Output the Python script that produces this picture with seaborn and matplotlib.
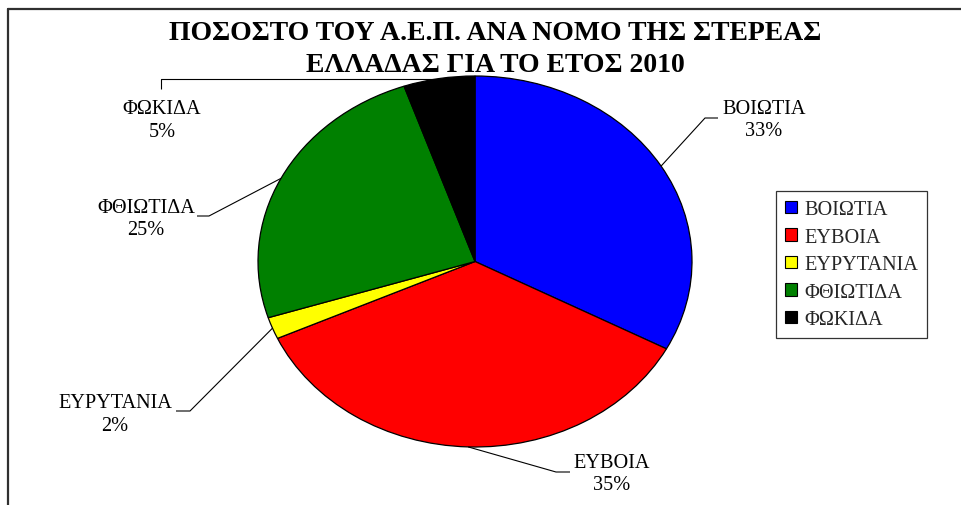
import numpy as np
import matplotlib
matplotlib.use("Agg")
import matplotlib.pyplot as plt
from matplotlib.patches import Patch
from matplotlib.lines import Line2D
import seaborn as sns

# ---- data ----
categories = ["ΒΟΙΩΤΙΑ", "ΕΥΒΟΙΑ", "ΕΥΡΥΤΑΝΙΑ", "ΦΘΙΩΤΙΔΑ", "ΦΩΚΙΔΑ"]
shares = [32.8, 35.4, 1.9, 24.6, 5.3]
colors = ["#0000FF", "#FF0000", "#FFFF00", "#008000", "#000000"]
title = "ΠΟΣΟΣΤΟ ΤΟΥ Α.Ε.Π. ΑΝΑ ΝΟΜΟ ΤΗΣ ΣΤΕΡΕΑΣ\nΕΛΛΑΔΑΣ ΓΙΑ ΤΟ ΕΤΟΣ 2010"

sns.set_theme(style="white")
plt.rcParams["font.family"] = ["Liberation Serif", "DejaVu Serif"]

W, H = 962, 506
fig = plt.figure(figsize=(W / 100, H / 100), dpi=100)
ax = fig.add_axes([0, 0, 1, 1])

# pixel layout of the (elliptic) pie
CX, CY, RX, RY = 475, 262.5, 217, 185.5
def px(x):
    return (x - CX) / RX
def py(y):
    return (CY - y) / RY

wedges, _ = ax.pie(shares, colors=colors, startangle=90, counterclock=False,
                   wedgeprops=dict(edgecolor="black", linewidth=0.9))
ax.set_aspect("auto")
ax.set_xlim(px(0), px(W))
ax.set_ylim(py(H), py(0))
ax.axis("off")

# label layout (pixel positions): text centre, leader end, leader elbow
label_layout = [
    ((764, 120.5), (718, 119), (705, 119)),
    ((612, 474.5), (570, 473), (556, 473)),
    ((115, 415), (176, 412), (190, 412)),
    ((146, 219.5), (197, 217), (209, 217)),
    ((162, 121), (161, 90), None),
]

fs = 14.6
for w, cat, v, (tc, le, el) in zip(wedges, categories, shares, label_layout):
    ang = np.deg2rad((w.theta1 + w.theta2) / 2)
    sx, sy = np.cos(ang), np.sin(ang)
    ax.text(px(tc[0]), py(tc[1]), f"{cat}\n{round(v)}%", ha="center", va="center",
            multialignment="center", fontsize=fs, color="black", linespacing=1.22)
    if el is None:
        xs = [px(le[0]), px(le[0]), sx]
        ys = [py(le[1]), sy, sy]
    else:
        xs = [px(le[0]), px(el[0]), sx]
        ys = [py(le[1]), py(el[1]), sy]
    ax.plot(xs, ys, color="black", lw=0.8, solid_capstyle="butt")

# title
fig.text(495 / W, 1 - 49.5 / H, title, ha="center", va="center", fontsize=20,
         fontweight="bold", linespacing=1.39, color="black")

# legend
handles = [Patch(facecolor=c, edgecolor="black", linewidth=0.8) for c in colors]
leg = fig.legend(handles, categories, loc="upper left",
                 bbox_to_anchor=(776 / W, 1 - 192 / H), bbox_transform=fig.transFigure,
                 borderaxespad=0, fontsize=fs, frameon=True, fancybox=False,
                 handlelength=0.6, handleheight=0.6, handletextpad=0.35,
                 labelspacing=0.42, borderpad=0.45)
leg.get_frame().set_edgecolor("black")
leg.get_frame().set_linewidth(0.9)

# outer frame (top and left edges visible)
fig.add_artist(Line2D([8 / W, 1], [1 - 10 / H, 1 - 10 / H], transform=fig.transFigure,
                      color="#303030", lw=1.6))
fig.add_artist(Line2D([8 / W, 8 / W], [0, 1 - 10 / H], transform=fig.transFigure,
                      color="#303030", lw=1.6))

fig.savefig("out.png", dpi=100, facecolor="white")
